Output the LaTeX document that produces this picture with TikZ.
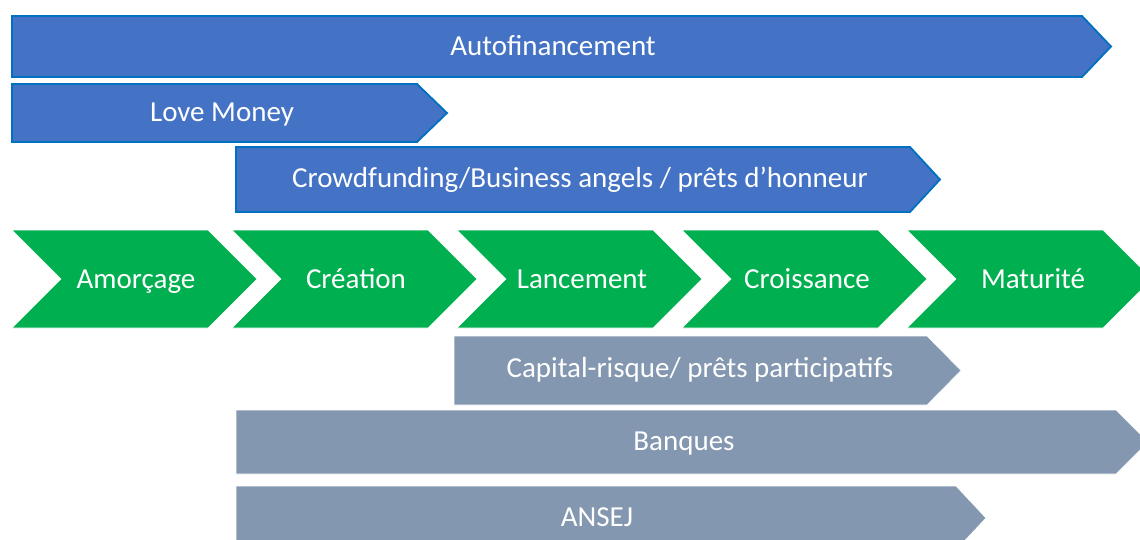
\documentclass[tikz,border=0pt]{standalone}
\usepackage{fontspec}
\setmainfont{Carlito}
\definecolor{bandblue}{HTML}{4472C4}
\definecolor{bandedge}{HTML}{0070C0}
\definecolor{stagegreen}{HTML}{00B050}
\definecolor{bandgray}{HTML}{8497B0}
\tikzset{
  bluebar/.style={fill=bandblue,draw=bandedge,line width=1.8pt,line join=miter},
  graybar/.style={fill=bandgray,draw=white,line width=0.6pt},
  stagebox/.style={fill=stagegreen,draw=white,line width=0.6pt},
  bartext/.style={text=white,font=\fontsize{29}{34}\selectfont,inner sep=0pt,anchor=base},
}
% pentagon band: style, left, top, bottom, end of body, tip
\newcommand{\band}[6]{%
  \path[#1] (#2,#3) -- (#5,#3) -- (#6,{(#3+#4)/2}) -- (#5,#4) -- (#2,#4) -- cycle;}
% chevron stage: left x, top, bottom, body width, depth
\newcommand{\stage}[5]{%
  \path[stagebox] (#1,#2) -- ({#1+#4},#2) -- ({#1+#4+#5},{(#2+#3)/2}) -- ({#1+#4},#3)
    -- (#1,#3) -- ({#1+#5},{(#2+#3)/2}) -- cycle;}
\begin{document}
\begin{tikzpicture}[x=1pt,y=-1pt]
\useasboundingbox (0,0) rectangle (1140,539);
\begin{scope}
\clip (0,0) rectangle (1140,539);
% funding sources above the stages
\band{bluebar}{12}{16}{77}{1082}{1111}
\band{bluebar}{12}{84}{142}{417}{447}
\band{bluebar}{236}{147}{212}{910}{940}
% life-cycle stages
\stage{12}{230}{328}{196}{49}
\stage{232}{230}{328}{196}{49}
\stage{457}{230}{328}{196}{49}
\stage{682}{230}{328}{196}{49}
\stage{907}{230}{328}{196}{49}
% funding sources below the stages
\band{graybar}{454}{336}{405}{927}{961}
\band{graybar}{236}{410}{474}{1116}{1148}
\band{graybar}{236}{486}{550}{956}{986}
\end{scope}
\node[bartext] (autofin) at (553,55) {Autofinancement};
\node[bartext] (love) at (222,121.5) {Love Money};
\node[bartext] (crowd) at (580,187) {Crowdfunding/Business angels / prêts d’honneur};
\node[bartext] (amorcage) at (136,288) {Amorçage};
\node[bartext] (creation) at (356,288) {Création};
\node[bartext] (lancement) at (582,288) {Lancement};
\node[bartext] (croissance) at (807,288) {Croissance};
\node[bartext] (maturite) at (1033,288) {Maturité};
\node[bartext] (capital) at (700,377.5) {Capital-risque/ prêts participatifs};
\node[bartext] (banques) at (684,450) {Banques};
\node[bartext] (ansej) at (597,526) {ANSEJ};
\end{tikzpicture}
\end{document}
